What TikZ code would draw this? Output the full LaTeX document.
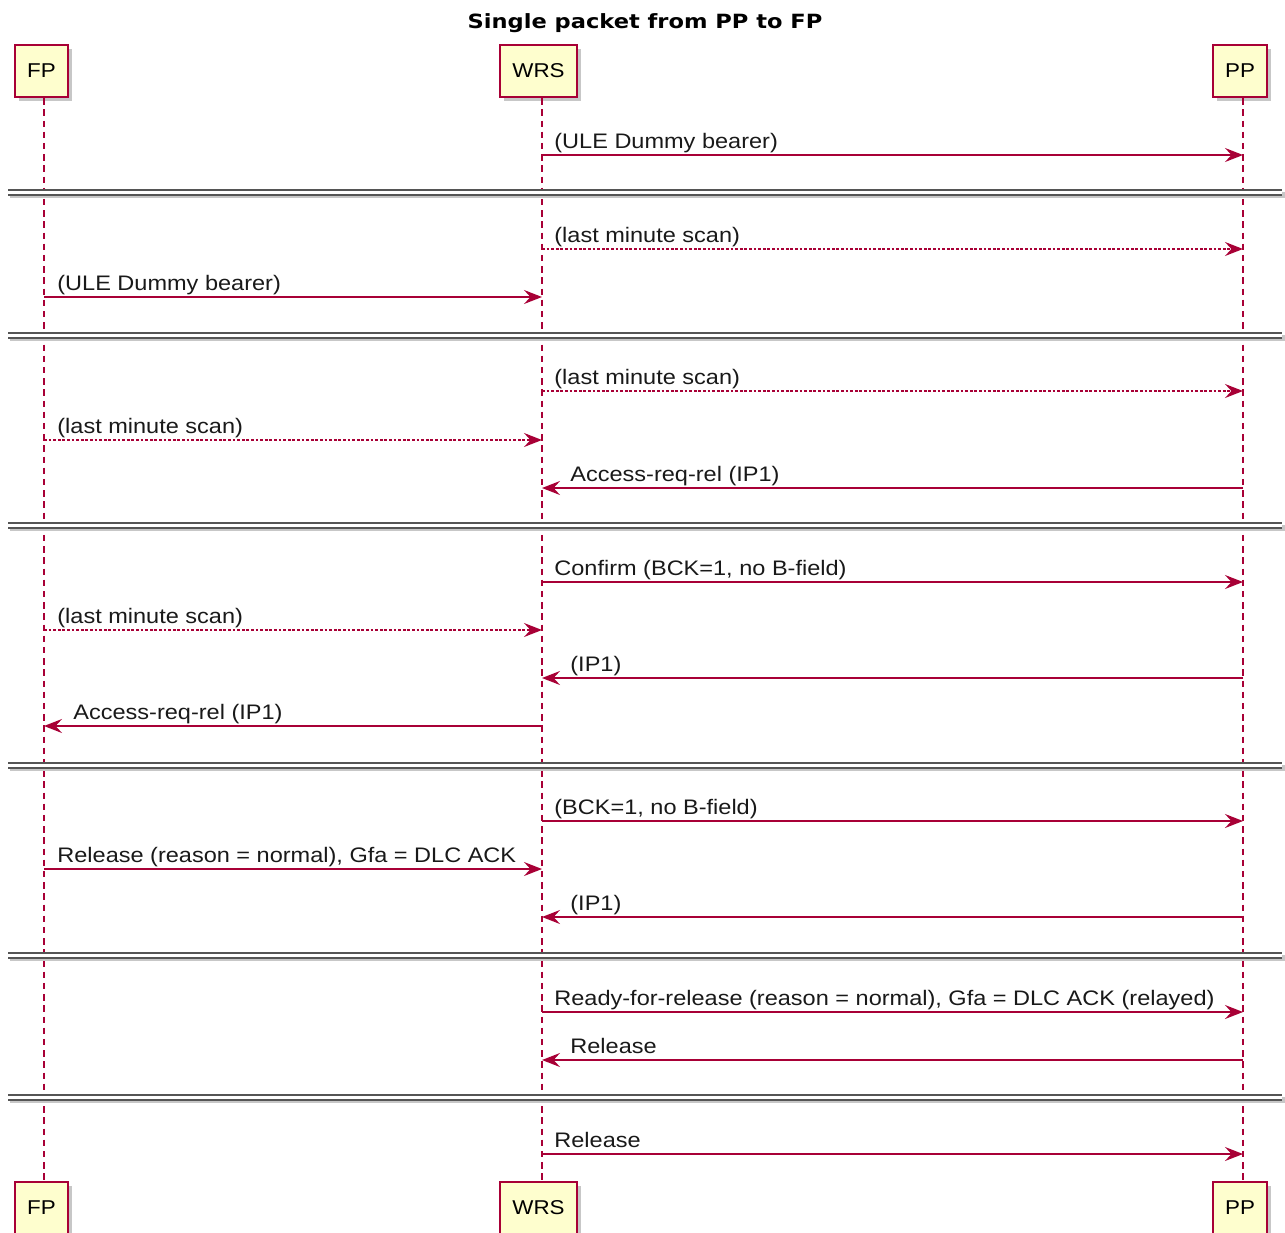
\documentclass[tikz,border=0pt]{standalone}
\usepackage{fontspec}
\setmainfont{Liberation Sans}[FakeStretch=1.12]
\newfontfamily\titlefont{DejaVu Sans}[FakeStretch=1.15]
\usetikzlibrary{arrows.meta,shadows}
\definecolor{seqred}{HTML}{A80036}
\definecolor{partfill}{HTML}{FEFECE}
\definecolor{divgray}{HTML}{555555}
\tikzset{
  part/.style={draw=seqred, line width=1.1pt, fill=partfill, inner sep=0pt,
    minimum height=26pt, font=\fontsize{10}{12}\selectfont,
    drop shadow={shadow xshift=2pt, shadow yshift=-2pt, fill=black, opacity=0.22}},
  lifeline/.style={draw=seqred, line width=0.6pt, dash pattern=on 3.2pt off 2.4pt},
  msg/.style={draw=seqred, line width=0.75pt,
    -{Stealth[length=9pt, width=7pt, inset=3.2pt]}},
  dotmsg/.style={msg, dash pattern=on 1.4pt off 0.9pt},
  lbl/.style={anchor=base west, inner sep=0pt, text=black!90, font=\fontsize{10.5}{12}\selectfont},
}
\newcommand\seqdivider[1]{%
  \fill[black!22] (10,#1+2) rectangle (1285,#1+8);
  \fill[white] (8,#1) rectangle (1282,#1+5);
  \draw[divgray, line width=0.8pt] (8,#1) -- (1282,#1);
  \draw[divgray, line width=0.8pt] (8,#1+5) -- (1282,#1+5);
}
\begin{document}
\begin{tikzpicture}[x=0.5pt, y=-0.5pt]
\useasboundingbox (0,0) rectangle (1285,1232);

% title
\node[anchor=base, inner sep=0pt, font=\titlefont\bfseries\fontsize{9.8}{12}\selectfont]
  (title) at (645,28) {Single packet from PP to FP};

% lifeline positions
\coordinate (FP) at (44,0);
\coordinate (WRS) at (542,0);
\coordinate (PP) at (1243,0);

% participants, top and bottom
\node[part, minimum width=26.5pt] (fpT) at (41.5,71) {FP};
\node[part, minimum width=38.5pt] (wrsT) at (538.5,71) {WRS};
\node[part, minimum width=27pt] (ppT) at (1240,71) {PP};
\node[part, minimum width=26.5pt] (fpB) at (41.5,1208) {FP};
\node[part, minimum width=38.5pt] (wrsB) at (538.5,1208) {WRS};
\node[part, minimum width=27pt] (ppB) at (1240,1208) {PP};

% lifelines
\draw[lifeline] (FP |- fpT.south) -- (FP |- fpB.north);
\draw[lifeline] (WRS |- wrsT.south) -- (WRS |- wrsB.north);
\draw[lifeline] (PP |- ppT.south) -- (PP |- ppB.north);

% block 1
\draw[msg] (WRS |- 0,155) -- (PP |- 0,155);
\node[lbl] at ([xshift=6pt,yshift=3.5pt]WRS |- 0,155) {(ULE Dummy bearer)};
\seqdivider{190}

% block 2
\draw[dotmsg] (WRS |- 0,249) -- (PP |- 0,249);
\node[lbl] at ([xshift=6pt,yshift=3.5pt]WRS |- 0,249) {(last minute scan)};
\draw[msg] (FP |- 0,297) -- (WRS |- 0,297);
\node[lbl] at ([xshift=6.5pt,yshift=3.5pt]FP |- 0,297) {(ULE Dummy bearer)};
\seqdivider{333}

% block 3
\draw[dotmsg] (WRS |- 0,391) -- (PP |- 0,391);
\node[lbl] at ([xshift=6pt,yshift=3.5pt]WRS |- 0,391) {(last minute scan)};
\draw[dotmsg] (FP |- 0,440) -- (WRS |- 0,440);
\node[lbl] at ([xshift=6.5pt,yshift=3.5pt]FP |- 0,440) {(last minute scan)};
\draw[msg] (PP |- 0,488) -- (WRS |- 0,488);
\node[lbl] at ([xshift=14pt,yshift=3.5pt]WRS |- 0,488) {Access-req-rel (IP1)};
\seqdivider{523}

% block 4
\draw[msg] (WRS |- 0,582) -- (PP |- 0,582);
\node[lbl] at ([xshift=6pt,yshift=3.5pt]WRS |- 0,582) {Confirm (BCK=1, no B-field)};
\draw[dotmsg] (FP |- 0,630) -- (WRS |- 0,630);
\node[lbl] at ([xshift=6.5pt,yshift=3.5pt]FP |- 0,630) {(last minute scan)};
\draw[msg] (PP |- 0,678) -- (WRS |- 0,678);
\node[lbl] at ([xshift=14pt,yshift=3.5pt]WRS |- 0,678) {(IP1)};
\draw[msg] (WRS |- 0,726) -- (FP |- 0,726);
\node[lbl] at ([xshift=14.5pt,yshift=3.5pt]FP |- 0,726) {Access-req-rel (IP1)};
\seqdivider{763}

% block 5
\draw[msg] (WRS |- 0,821) -- (PP |- 0,821);
\node[lbl] at ([xshift=6pt,yshift=3.5pt]WRS |- 0,821) {(BCK=1, no B-field)};
\draw[msg] (FP |- 0,869) -- (WRS |- 0,869);
\node[lbl] at ([xshift=6.5pt,yshift=3.5pt]FP |- 0,869) {Release (reason = normal), Gfa = DLC ACK};
\draw[msg] (PP |- 0,917) -- (WRS |- 0,917);
\node[lbl] at ([xshift=14pt,yshift=3.5pt]WRS |- 0,917) {(IP1)};
\seqdivider{953}

% block 6
\draw[msg] (WRS |- 0,1012) -- (PP |- 0,1012);
\node[lbl] at ([xshift=6pt,yshift=3.5pt]WRS |- 0,1012) {Ready-for-release (reason = normal), Gfa = DLC ACK (relayed)};
\draw[msg] (PP |- 0,1060) -- (WRS |- 0,1060);
\node[lbl] at ([xshift=14pt,yshift=3.5pt]WRS |- 0,1060) {Release};
\seqdivider{1095}

% block 7
\draw[msg] (WRS |- 0,1154) -- (PP |- 0,1154);
\node[lbl] at ([xshift=6pt,yshift=3.5pt]WRS |- 0,1154) {Release};
\end{tikzpicture}
\end{document}
